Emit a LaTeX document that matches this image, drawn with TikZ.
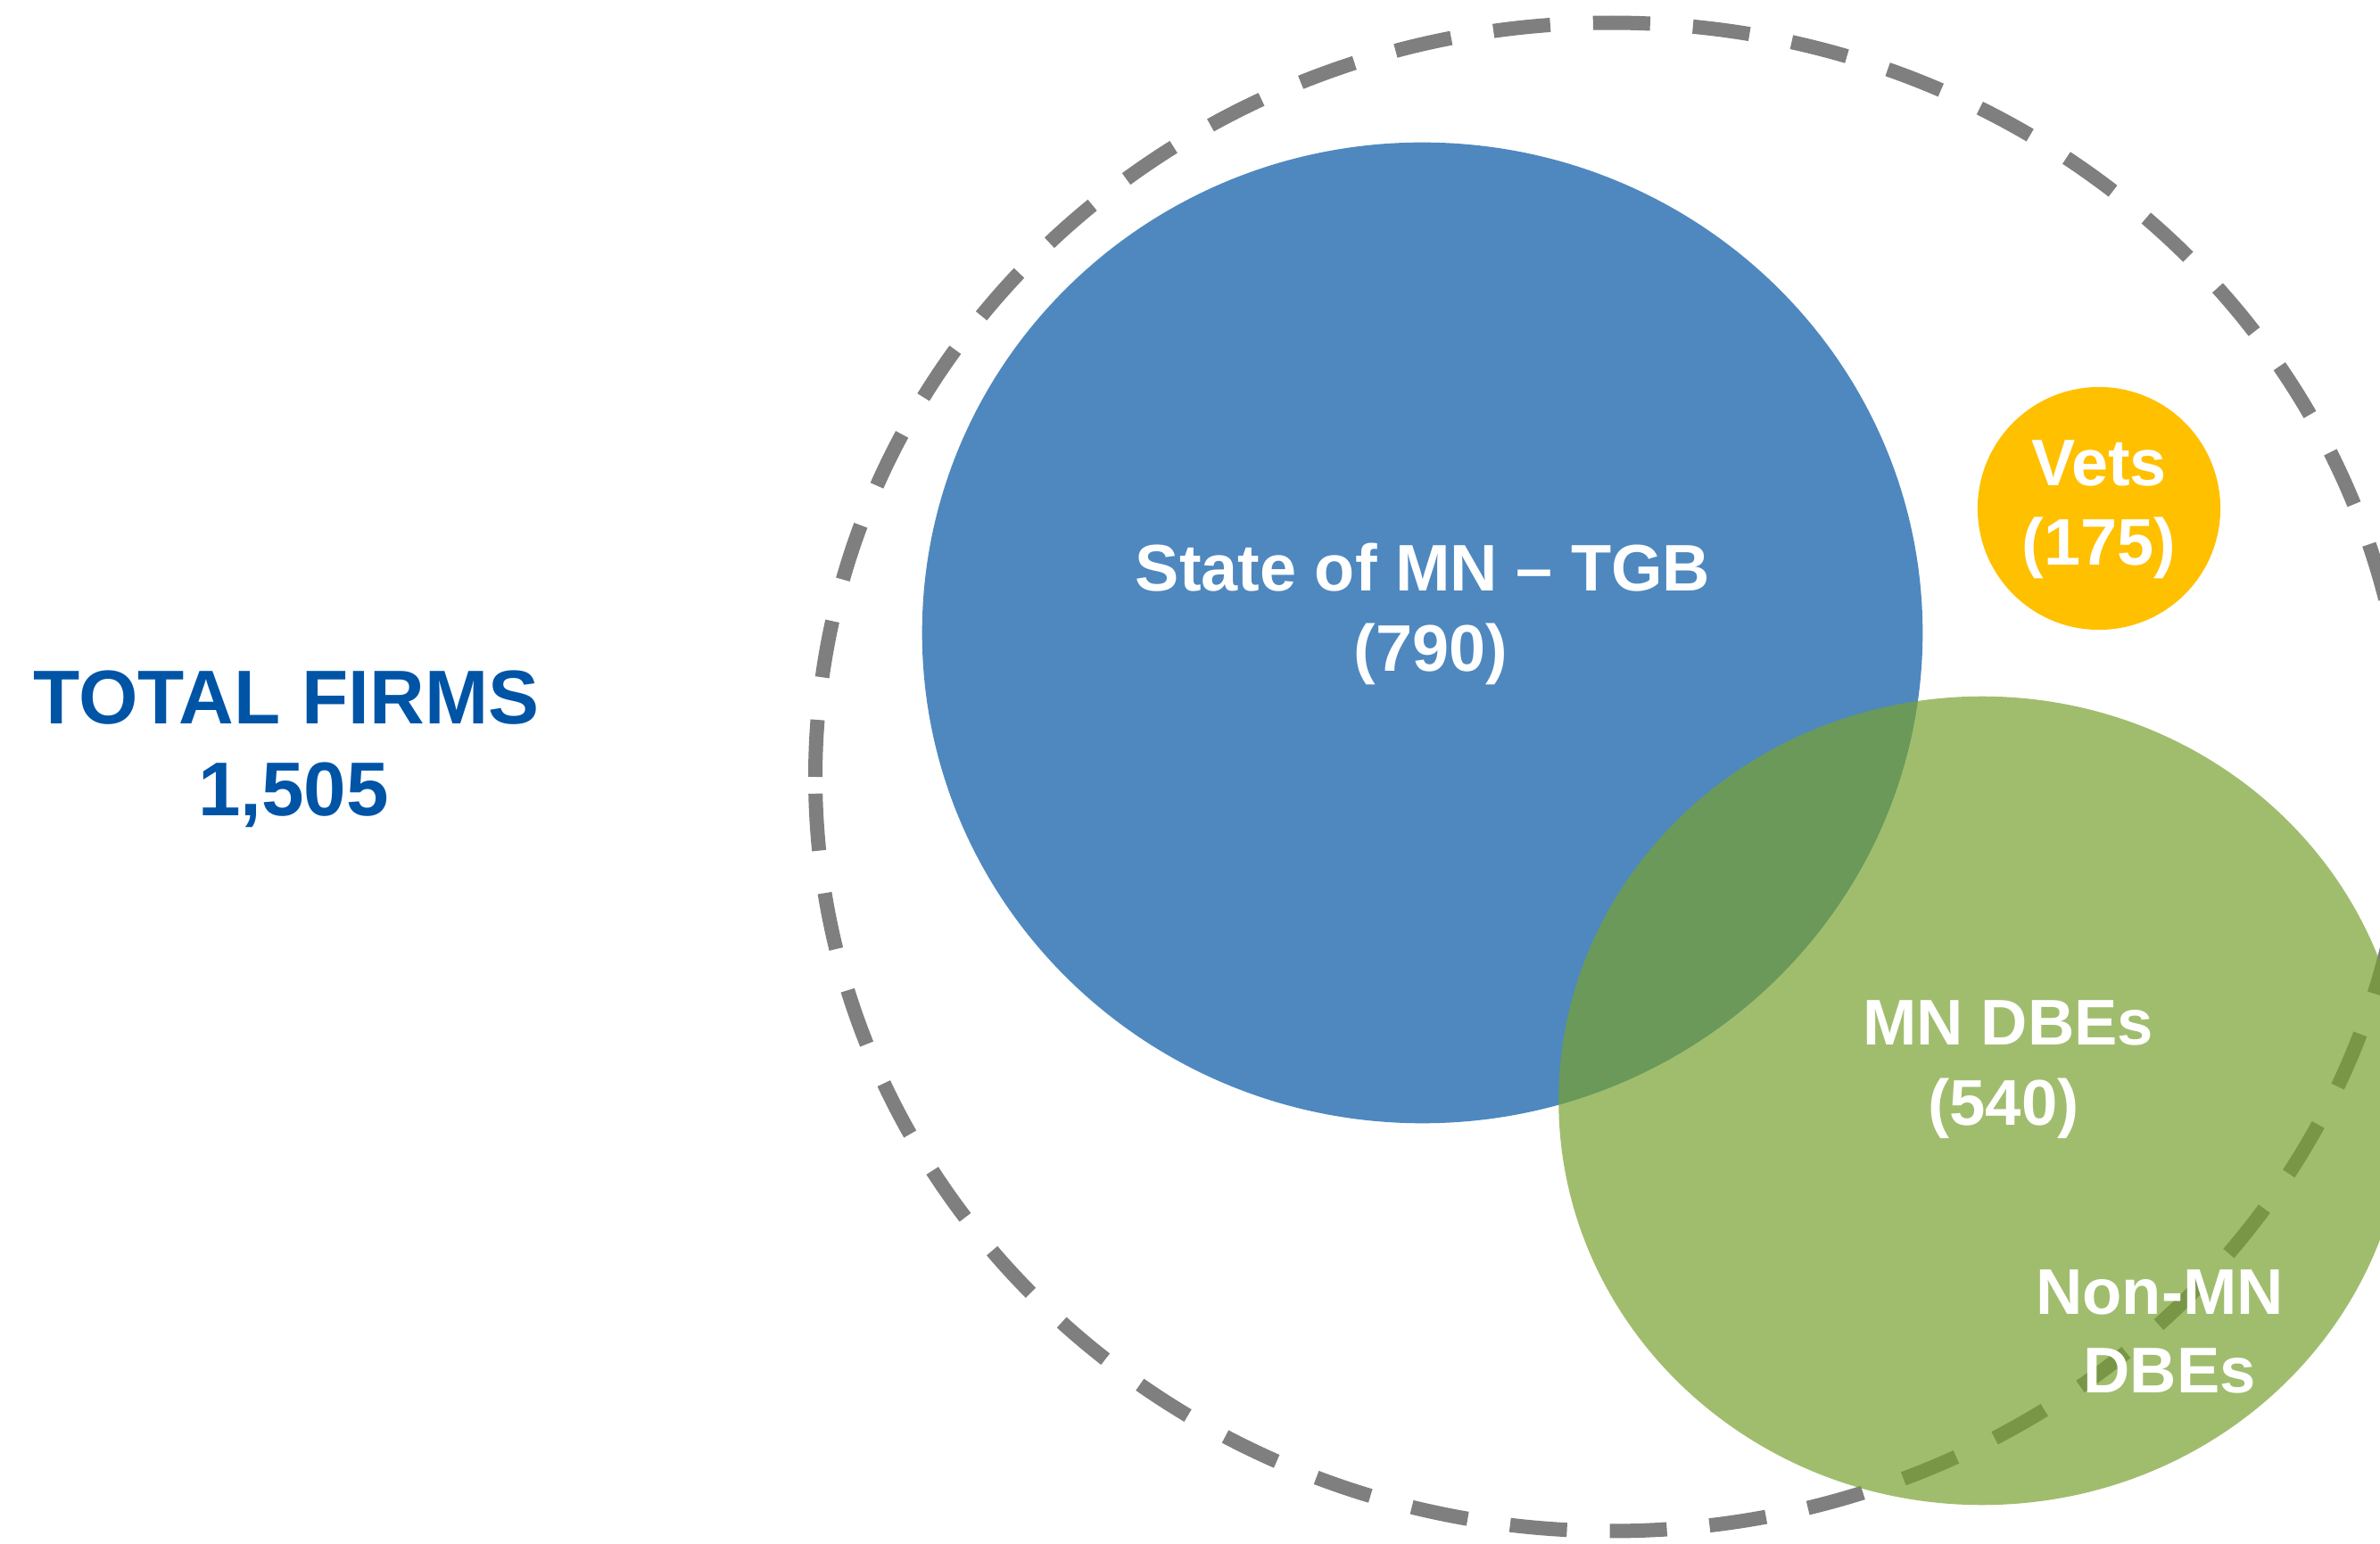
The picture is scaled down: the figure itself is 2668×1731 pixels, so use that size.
\documentclass[tikz,border=0pt]{standalone}
\usepackage{fontspec}
\setmainfont{Liberation Sans}

\definecolor{ringgray}{RGB}{127,127,127}
\definecolor{tgbblue}{RGB}{78,136,191}
\definecolor{vetsgold}{RGB}{255,192,0}
\definecolor{dbegreen}{RGB}{119,161,48}
\definecolor{titleblue}{RGB}{0,84,166}

\tikzset{
  ring/.style={draw=ringgray, line width=4.55pt, dash pattern=on 0.64cm off 0.48cm},
  setlabel/.style={anchor=base, inner sep=0pt, text=white,
    font=\bfseries\fontsize{21}{25}\selectfont},
  smalllabel/.style={setlabel, font=\bfseries\fontsize{20.6}{24.7}\selectfont},
  totallabel/.style={anchor=base, inner sep=0pt, text=titleblue,
    font=\bfseries\fontsize{24.3}{29}\selectfont}
}

\begin{document}
\begin{tikzpicture}[x=0.01cm, y=0.01cm]
  % canvas: 2668 x 1731 units, y measured downward as negative
  \useasboundingbox (0,0) rectangle (2668,-1731);
  \clip (0,0) rectangle (2668,-1731);

  % outer dashed ring (all firms)
  \draw[ring] (914,-871) arc[start angle=180, end angle=-180,
                             x radius=8.92cm, y radius=8.45cm];

  % State of MN - TGB
  \fill[tgbblue] (1594.5,-709.5) ellipse [x radius=5.605cm, y radius=5.495cm];

  % Vets
  \fill[vetsgold] (2353,-570) circle [radius=1.36cm];

  % DBEs, translucent over the others
  \fill[dbegreen, fill opacity=0.7] (2222,-1234) ellipse [x radius=4.745cm, y radius=4.53cm];

  % labels
  \node[totallabel] (totalA) at (321,-812) {TOTAL FIRMS};
  \node[totallabel] (totalB) at (329,-915) {1,505};

  \node[setlabel] (tgbA) at (1595,-663) {State of MN – TGB};
  \node[setlabel] (tgbB) at (1604,-753) {(790)};

  \node[setlabel] (vetsA) at (2353,-545) {Vets};
  \node[setlabel] (vetsB) at (2353,-634) {(175)};

  \node[smalllabel] (mndbeA) at (2251,-1172) {MN DBEs};
  \node[smalllabel] (mndbeB) at (2246,-1262) {(540)};

  \node[smalllabel] (nonmnA) at (2421,-1473) {Non-MN};
  \node[smalllabel] (nonmnB) at (2432,-1561) {DBEs};
\end{tikzpicture}
\end{document}
